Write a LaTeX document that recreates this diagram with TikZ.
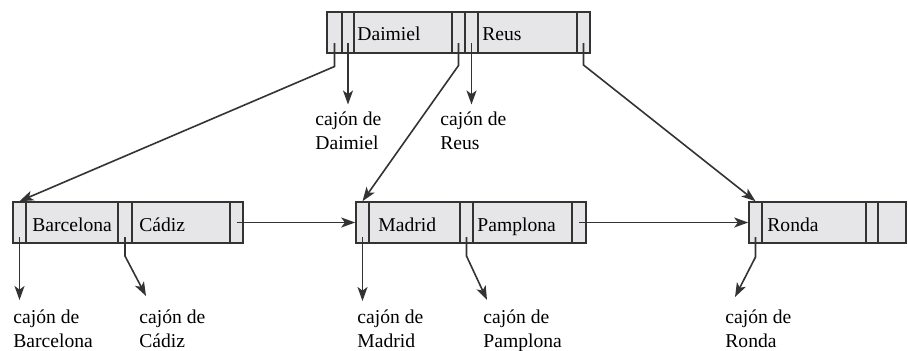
\documentclass[tikz,border=0pt]{standalone}
\usepackage{fontspec}
\setmainfont{Liberation Serif}
\usetikzlibrary{arrows.meta,fit,calc}
\definecolor{ln}{HTML}{333333}
\definecolor{cellfill}{HTML}{E6E6E8}
\begin{document}
\begin{tikzpicture}[x=0.5pt,y=-0.5pt,
  cell/.style={draw=ln, fill=cellfill, line width=0.8pt, inner sep=0pt},
  ptr/.style={draw=ln, line width=0.8pt},
  arr/.style={ptr, -{Stealth[length=7pt,width=5pt,inset=1.8pt]}},
  key/.style={inner sep=0pt, anchor=base west, text=black, font=\fontsize{9.8}{12}\selectfont},
  lab/.style={inner sep=0pt, anchor=base west, align=left, text=black, font=\fontsize{9.8}{12}\selectfont}]
\useasboundingbox (0,0) rectangle (908,350);
% top node
\node[cell, fit={(327,12) (342,53)}] (t1) {};
\node[cell, fit={(342,12) (354,53)}] (t2) {};
\node[cell, fit={(354,12) (452,53)}] (t3) {};
\node[cell, fit={(452,12) (465,53)}] (t4) {};
\node[cell, fit={(465,12) (478,53)}] (t5) {};
\node[cell, fit={(478,12) (577,53)}] (t6) {};
\node[cell, fit={(577,12) (590,53)}] (t7) {};
\node[key] (kD) at (357,40) {Daimiel};
\node[key] (kR) at (482,40) {Reus};
% Barcelona leaf
\node[cell, fit={(13,202) (26,243)}] (b1) {};
\node[cell, fit={(26,202) (118,243)}] (b2) {};
\node[cell, fit={(118,202) (132,243)}] (b3) {};
\node[cell, fit={(132,202) (230,243)}] (b4) {};
\node[cell, fit={(230,202) (243,243)}] (b5) {};
\node[key] (kB) at (32,231) {Barcelona};
\node[key] (kC) at (139,231) {Cádiz};
% Madrid leaf
\node[cell, fit={(356,202) (369,243)}] (m1) {};
\node[cell, fit={(369,202) (460,243)}] (m2) {};
\node[cell, fit={(460,202) (473,243)}] (m3) {};
\node[cell, fit={(473,202) (572,243)}] (m4) {};
\node[cell, fit={(572,202) (586,243)}] (m5) {};
\node[key] (kM) at (378,231) {Madrid};
\node[key] (kP) at (477,231) {Pamplona};
% Ronda leaf
\node[cell, fit={(749,202) (762,243)}] (r1) {};
\node[cell, fit={(762,202) (866,243)}] (r2) {};
\node[cell, fit={(866,202) (878,243)}] (r3) {};
\node[cell, fit={(878,202) (906,243)}] (r4) {};
\node[key] (kO) at (767,231) {Ronda};
% bucket labels (anchor = baseline of last line)
\node[lab] (lD) at (315,149) {cajón de\\Daimiel};
\node[lab] (lR) at (440,149) {cajón de\\Reus};
\node[lab] (lB) at (13,347) {cajón de\\Barcelona};
\node[lab] (lC) at (139,347) {cajón de\\Cádiz};
\node[lab] (lM) at (357,347) {cajón de\\Madrid};
\node[lab] (lP) at (483,347) {cajón de\\Pamplona};
\node[lab] (lO) at (725,347) {cajón de\\Ronda};
% top pointers
\coordinate (t1s) at ($(t1.center)+(0,10.5)$);
\coordinate (t1k) at ($(t1.center)+(0,34)$);
\coordinate (t2s) at ($(t2.center)+(0,10.5)$);
\coordinate (t2e) at ($(t2.center)+(0,72)$);
\coordinate (t4s) at ($(t4.center)+(0,10.5)$);
\coordinate (t4k) at ($(t4.center)+(0,33)$);
\coordinate (t5s) at ($(t5.center)+(0,10.5)$);
\coordinate (t5e) at ($(t5.center)+(0,72)$);
\coordinate (t7s) at ($(t7.center)+(0,10.5)$);
\coordinate (t7k) at ($(t7.center)+(0,32.5)$);
\draw[arr] (t1s) -- (t1k) -- (b1.north);
\draw[arr] (t2s) -- (t2e);
\draw[arr] (t4s) -- (t4k) -- (m1.north);
\draw[arr] (t5s) -- (t5e);
\draw[arr] (t7s) -- (t7k) -- (r1.north);
% leaf chain
\draw[arr] (b5.center) -- (m1.west);
\draw[arr] (m5.center) -- (r1.west);
% bottom bucket pointers
\coordinate (b1s) at ($(b1.center)+(0,14.5)$);
\coordinate (b1e) at ($(b1.center)+(0,77.5)$);
\coordinate (b3s) at ($(b3.center)+(0,14.5)$);
\coordinate (b3k) at ($(b3.center)+(0,33.5)$);
\coordinate (b3e) at (146,296);
\coordinate (m1s) at ($(m1.center)+(0,14.5)$);
\coordinate (m1e) at ($(m1.center)+(0,78.5)$);
\coordinate (m3s) at ($(m3.center)+(0,14.5)$);
\coordinate (m3k) at ($(m3.center)+(0,33.5)$);
\coordinate (m3e) at (487,300);
\coordinate (r1s) at ($(r1.center)+(0,14.5)$);
\coordinate (r1k) at ($(r1.center)+(0,34.5)$);
\coordinate (r1e) at (735,297);
\draw[arr] (b1s) -- (b1e);
\draw[arr] (b3s) -- (b3k) -- (b3e);
\draw[arr] (m1s) -- (m1e);
\draw[arr] (m3s) -- (m3k) -- (m3e);
\draw[arr] (r1s) -- (r1k) -- (r1e);
\end{tikzpicture}
\end{document}
